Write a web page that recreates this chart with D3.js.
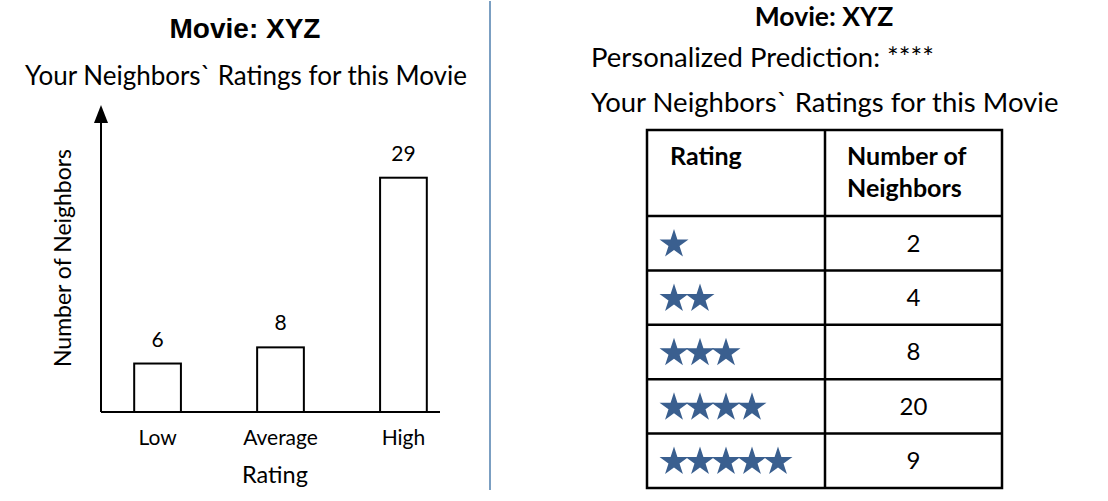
<!DOCTYPE html>
<html>
<head>
<meta charset="utf-8">
<script src="https://cdn.jsdelivr.net/npm/d3@7"></script>
<style>
  body { margin: 0; background: #fff; }
  svg { display: block; }
  .cal { font-family: Lato, "Open Sans", sans-serif; fill: #000; }
</style>
</head>
<body>
<svg id="chart"></svg>
<script>
// bar chart data
const barCategories = ['Low', 'Average', 'High'];
const barValues = [6, 8, 29];
// table data
const starCounts = [1, 2, 3, 4, 5];
const neighborCounts = [2, 4, 8, 20, 9];
const movieTitle = 'Movie: XYZ';
const prediction = 'Personalized Prediction: ****';

const width = 1108, height = 501;
const svg = d3.select('#chart').attr('width', width).attr('height', height);

// ---------- left: bar chart ----------
const margin = {left: 101, bottom: 412, top: 105};

const xScale = d3.scaleBand()
    .domain(barCategories)
    .range([101, 460])
    .paddingInner(0.62)
    .paddingOuter(0.27);

const yScale = d3.scaleLinear()
    .domain([0, 38])
    .range([margin.bottom, margin.top]);

svg.append('text')
    .attr('x', 245).attr('y', 38)
    .attr('text-anchor', 'middle')
    .style('font-family', '"Liberation Sans", Arial, sans-serif')
    .style('font-weight', 'bold')
    .style('font-size', '28px')
    .text(movieTitle);

svg.append('text')
    .attr('class', 'cal')
    .attr('x', 246).attr('y', 85)
    .attr('text-anchor', 'middle')
    .style('font-size', '26px')
    .text('Your Neighbors` Ratings for this Movie');

// bars
svg.selectAll('.bar')
    .data(barValues)
    .join('rect')
    .attr('class', 'bar')
    .attr('x', (d, i) => xScale(barCategories[i]))
    .attr('y', d => yScale(d))
    .attr('width', xScale.bandwidth())
    .attr('height', d => yScale(0) - yScale(d))
    .attr('fill', '#fff')
    .attr('stroke', '#000')
    .attr('stroke-width', 2);

svg.selectAll('.bar-label')
    .data(barValues)
    .join('text')
    .attr('class', 'cal bar-label')
    .attr('x', (d, i) => xScale(barCategories[i]) + xScale.bandwidth() / 2)
    .attr('y', d => yScale(d) - 17)
    .attr('text-anchor', 'middle')
    .style('font-size', '21px')
    .text(d => d);

// axes
const xAxis = d3.axisBottom(xScale).tickSize(0).tickPadding(18);
const xAxisG = svg.append('g')
    .attr('transform', `translate(0,${margin.bottom})`)
    .call(xAxis);
xAxisG.select('.domain').remove();
xAxisG.selectAll('text')
    .attr('class', 'cal')
    .style('font-size', '21px')
    .attr('fill', '#000');

svg.append('line')
    .attr('x1', 101).attr('x2', 440)
    .attr('y1', margin.bottom).attr('y2', margin.bottom)
    .attr('stroke', '#000').attr('stroke-width', 2);

svg.append('line')
    .attr('x1', 101).attr('x2', 101)
    .attr('y1', margin.bottom).attr('y2', 118)
    .attr('stroke', '#000').attr('stroke-width', 2);

svg.append('path')
    .attr('d', 'M101,105 L108,123 L94,123 Z')
    .attr('fill', '#000');

svg.append('text')
    .attr('class', 'cal')
    .attr('transform', 'translate(71,258) rotate(-90)')
    .attr('text-anchor', 'middle')
    .style('font-size', '23px')
    .text('Number of Neighbors');

svg.append('text')
    .attr('class', 'cal')
    .attr('x', 275).attr('y', 483)
    .attr('text-anchor', 'middle')
    .style('font-size', '23.5px')
    .text('Rating');

// divider
svg.append('line')
    .attr('x1', 490).attr('x2', 490)
    .attr('y1', 1).attr('y2', 490)
    .attr('stroke', '#4f7fae').attr('stroke-width', 1.5);

// ---------- right: table ----------
svg.append('text')
    .attr('class', 'cal')
    .attr('x', 824).attr('y', 26)
    .attr('text-anchor', 'middle')
    .style('font-weight', 'bold')
    .style('font-size', '26.5px')
    .text(movieTitle);

svg.append('text')
    .attr('class', 'cal')
    .attr('x', 591).attr('y', 67)
    .style('font-size', '27.5px')
    .text(prediction);

svg.append('text')
    .attr('class', 'cal')
    .attr('x', 591).attr('y', 112)
    .style('font-size', '27.5px')
    .text('Your Neighbors` Ratings for this Movie');

const tLeft = 647, tRight = 1002, tMid = 825, tTop = 130, headBottom = 216, tBottom = 488;

const rowScale = d3.scaleBand()
    .domain(starCounts)
    .range([headBottom, tBottom]);

const tbl = svg.append('g');

// row lines
tbl.selectAll('.row-line')
    .data(starCounts)
    .join('line')
    .attr('x1', tLeft).attr('x2', tRight)
    .attr('y1', d => rowScale(d)).attr('y2', d => rowScale(d))
    .attr('stroke', '#000').attr('stroke-width', 2.5);

tbl.append('rect')
    .attr('x', tLeft).attr('y', tTop)
    .attr('width', tRight - tLeft).attr('height', tBottom - tTop)
    .attr('fill', 'none')
    .attr('stroke', '#000').attr('stroke-width', 2.5);

tbl.append('line')
    .attr('x1', tMid).attr('x2', tMid)
    .attr('y1', tTop).attr('y2', tBottom)
    .attr('stroke', '#000').attr('stroke-width', 2.5);

// header
tbl.append('text')
    .attr('class', 'cal')
    .attr('x', 670).attr('y', 165)
    .style('font-weight', 'bold')
    .style('font-size', '25px')
    .text('Rating');

tbl.append('text')
    .attr('class', 'cal')
    .attr('x', 847).attr('y', 165)
    .style('font-weight', 'bold')
    .style('font-size', '25px')
    .text('Number of');

tbl.append('text')
    .attr('class', 'cal')
    .attr('x', 847).attr('y', 197)
    .style('font-weight', 'bold')
    .style('font-size', '25px')
    .text('Neighbors');

// counts
tbl.selectAll('.count')
    .data(neighborCounts)
    .join('text')
    .attr('class', 'cal count')
    .attr('x', (tMid + tRight) / 2)
    .attr('y', (d, i) => rowScale(starCounts[i]) + rowScale.bandwidth() / 2)
    .attr('dy', '0.35em')
    .attr('text-anchor', 'middle')
    .style('font-size', '24px')
    .text(d => d);

// stars
const starPath = d3.symbol().type(d3.symbolStar).size(260);
starCounts.forEach(n => {
    tbl.selectAll(null)
        .data(d3.range(n))
        .join('path')
        .attr('d', starPath)
        .attr('transform', j => `translate(${674 + j * 26},${rowScale(n) + rowScale.bandwidth() / 2 + 1})`)
        .attr('fill', '#3a5f8f');
});
</script>
</body>
</html>
